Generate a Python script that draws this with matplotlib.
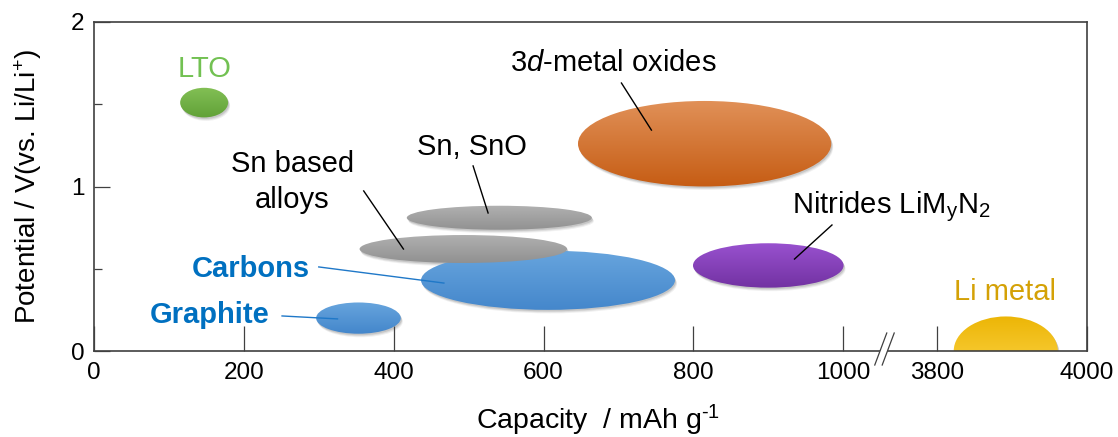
import numpy as np
import matplotlib
matplotlib.use("Agg")
import matplotlib.pyplot as plt
from matplotlib.patches import Ellipse, Polygon
from matplotlib.colors import LinearSegmentedColormap
from matplotlib.transforms import offset_copy
from matplotlib.lines import Line2D

plt.rcParams['font.family'] = ['Liberation Sans', 'DejaVu Sans']
plt.rcParams['mathtext.fontset'] = 'custom'
plt.rcParams['mathtext.rm'] = 'Liberation Sans'
plt.rcParams['mathtext.it'] = 'Liberation Sans:italic'

# Anode material regions: capacity (mAh/g) and potential (V vs Li/Li+)
materials = ["LTO", "Graphite", "Carbons", "Sn based alloys", "Sn, SnO",
             "3d-metal oxides", "Nitrides", "Li metal"]
capacity_center = [147, 353, 606, 493, 541, 815, 900, 3892]
potential_center = [1.51, 0.20, 0.43, 0.62, 0.81, 1.26, 0.52, 0.0]
capacity_span = [64, 113, 339, 277, 247, 338, 201, 139]
potential_span = [0.18, 0.19, 0.36, 0.17, 0.146, 0.52, 0.27, 0.42]
top_colors = ["#85c257", "#6aa7df", "#6aa7df", "#b3b3b3", "#b3b3b3",
              "#e3955e", "#9c54d3", "#ebb300"]
bottom_colors = ["#5f9f36", "#4285ca", "#4285ca", "#8f8f8f", "#8f8f8f",
                 "#c4590f", "#7030a0", "#ffd954"]

xticks = [0, 200, 400, 600, 800, 1000, 3800, 4000]
yticks = [0, 1, 2]

# Broken capacity axis: 1000 -> 3800 squeezed into a short gap
brk_real = [-1000, 1050, 3750, 6000]
brk_axis = [-1000, 1050, 1075, 3325]


def fwd(x):
    return np.interp(x, brk_real, brk_axis)


def inv(u):
    return np.interp(u, brk_axis, brk_real)


fig = plt.figure(figsize=(11.18, 4.37), dpi=100)
ax = fig.add_axes([94 / 1118, (437 - 351) / 437, (1086.7 - 94) / 1118, (351 - 22) / 437])
ax.set_xscale('function', functions=(fwd, inv))

grad = np.linspace(0, 1, 256).reshape(-1, 1)
for cx, cy, w, h, ct, cb in zip(capacity_center, potential_center, capacity_span,
                                potential_span, top_colors, bottom_colors):
    # soft drop shadow
    for dx, dy, a in [(1, -1.5, 0.10), (1.5, -2.5, 0.08), (2, -3.5, 0.06)]:
        sh = Ellipse((cx, cy), w, h, facecolor='black', edgecolor='none', alpha=a, zorder=1)
        sh.set_transform(offset_copy(ax.transData, fig=fig, x=dx, y=dy, units='dots'))
        ax.add_patch(sh)
    el = Ellipse((cx, cy), w, h, facecolor='none', edgecolor='none', zorder=2)
    ax.add_patch(el)
    cmap = LinearSegmentedColormap.from_list('g', [ct, cb])
    # gradient image a little larger than the ellipse, then clipped to it
    mx, my = 0.08 * w, 0.08 * h
    im = ax.imshow(grad, cmap=cmap, aspect='auto', origin='upper',
                   extent=(cx - w / 2 - mx, cx + w / 2 + mx, cy - h / 2 - my, cy + h / 2 + my),
                   interpolation='bilinear', zorder=2)
    im.set_clip_path(el)

ax.set_xlim(0, 4000)
ax.set_ylim(0, 2)

# leader lines
leaders = [
    ((506, 526), (1.125, 0.839), 'black'),
    ((360, 413), (0.973, 0.62), 'black'),
    ((704, 744), (1.629, 1.343), 'black'),
    ((985, 935), (0.766, 0.559), 'black'),
    ((300, 467), (0.511, 0.413), '#1f78c8'),
    ((251, 325), (0.213, 0.195), '#1f78c8'),
]
for xs, ys, c in leaders:
    ax.plot(xs, ys, color=c, lw=1.0, zorder=4)

fs = 21
ax.text(147, 1.666, "LTO", color="#72c152", fontsize=fs, ha='center', va='baseline')
ax.text(693, 1.70, "3$\\it{d}$-metal oxides", color="black", fontsize=fs, ha='center', va='baseline')
ax.text(505, 1.19, "Sn, SnO", color="black", fontsize=fs, ha='center', va='baseline')
ax.text(265, 1.088, "Sn based", color="black", fontsize=fs, ha='center', va='baseline')
ax.text(265, 0.869, "alloys", color="black", fontsize=fs, ha='center', va='baseline')
ax.text(931, 0.839, "Nitrides LiM$_\\mathrm{y}$N$_2$", color="black", fontsize=fs, ha='left', va='baseline')
ax.text(209, 0.45, "Carbons", color="#0070c0", fontsize=fs, fontweight='bold', ha='center', va='baseline')
ax.text(154, 0.170, "Graphite", color="#0070c0", fontsize=fs, fontweight='bold', ha='center', va='baseline')
ax.text(3891, 0.31, "Li metal", color="#d4a106", fontsize=fs, ha='center', va='baseline')

# axes styling
spine_c = '#404040'
for s in ax.spines.values():
    s.set_color(spine_c)
    s.set_linewidth(1.2)
ax.set_xticks(xticks)
ax.set_xticklabels([str(t) for t in xticks])
ax.set_yticks(yticks)
ax.set_yticks([0.5, 1.5], minor=True)
ax.xaxis.set_minor_locator(matplotlib.ticker.NullLocator())
ax.tick_params(axis='x', direction='in', length=18, width=0.9, color=spine_c,
               labelsize=17.5, pad=8, top=False)
ax.tick_params(axis='y', which='major', direction='in', length=11.5, width=0.9,
               color=spine_c, labelsize=17.5, pad=7, right=False)
ax.tick_params(axis='y', which='minor', direction='in', length=5.8, width=0.9,
               color=spine_c, right=False)

ax.set_xlabel("Capacity  / mAh g$^{\\text{-1}}$", fontsize=20.5)
ax.xaxis.set_label_coords(0.508, -0.237)
ax.xaxis.label.set_va('baseline')
ax.set_ylabel("Potential / V(vs. Li/Li$^{+}$)", fontsize=20)
ax.yaxis.set_label_coords(-0.0665, 0.5)
ax.yaxis.label.set_va('center')

# axis break marks
bx1, bx2 = 0.7865, 0.7986
by1, by2 = -0.0426, 0.0547
off = 0.0075
ax.add_patch(Polygon([(bx1, by1), (bx2, by2), (bx2 + off, by2), (bx1 + off, by1)],
                     closed=True, facecolor='white', edgecolor='none',
                     transform=ax.transAxes, clip_on=False, zorder=5))
for o in (0, off):
    ax.add_line(Line2D([bx1 + o, bx2 + o], [by1, by2], color=spine_c, lw=0.9,
                       transform=ax.transAxes, clip_on=False, zorder=6))

fig.savefig("out.png", dpi=100)
